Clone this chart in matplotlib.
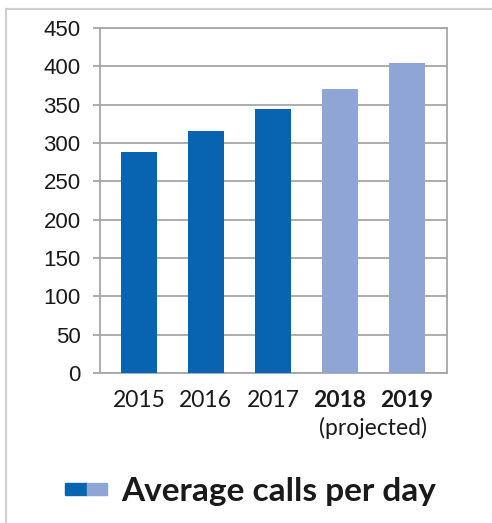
import numpy as np
import matplotlib.pyplot as plt
from matplotlib.lines import Line2D
from matplotlib.patches import Rectangle
import matplotlib.transforms as mtransforms

# data
years = ["2015", "2016", "2017", "2018", "2019"]
calls = [288, 315, 344, 371, 404]
projected = [False, False, False, True, True]

dark_blue = "#0864B1"
light_blue = "#8FA5D5"
grid_gray = "#A6A6A6"
text_c = "#1a1a1a"

fig = plt.figure(figsize=(4.92, 5.23), dpi=100)
W, H = 492, 523
ax = fig.add_axes([100 / W, 1 - 373 / H, 347 / W, 345 / H])

x = np.arange(len(years))
colors = [light_blue if p else dark_blue for p in projected]
ax.bar(x, calls, width=0.54, color=colors, zorder=3)

ax.set_xlim(-0.58, 4.6)
ax.set_ylim(0, 450)
ax.set_yticks(np.arange(0, 451, 50))
ax.grid(True, axis="y", color=grid_gray, linewidth=1.3, zorder=0)

for s in ax.spines.values():
    s.set_color(grid_gray)
    s.set_linewidth(1.3)

ax.tick_params(axis="y", length=5, width=1.3, color=grid_gray, pad=9,
               labelsize=16, labelcolor=text_c)
ax.tick_params(axis="x", length=0, pad=12, labelsize=16.5, labelcolor=text_c)
for lab in ax.get_yticklabels():
    lab.set_fontfamily("Liberation Sans")

ax.set_xticks(x)
ax.set_xticklabels(years, fontfamily="Lato")
for lab, p in zip(ax.get_xticklabels(), projected):
    if p:
        lab.set_fontweight("bold")

# "(projected)" under the two projected years
trans = mtransforms.blended_transform_factory(ax.transData, ax.transAxes)
proj_x = np.mean([xi for xi, p in zip(x, projected) if p])
ax.text(proj_x, -0.16, "(projected)", transform=trans, ha="center", va="center",
        fontsize=16.5, fontfamily="Lato", color=text_c)

# outer frame (top and left edges visible)
frame_c = "#CFCFCF"
fig.add_artist(Line2D([6 / W, 1], [1 - 9 / H, 1 - 9 / H], color=frame_c, linewidth=1.5))
fig.add_artist(Line2D([6 / W, 6 / W], [0, 1 - 9 / H], color=frame_c, linewidth=1.5))

# legend: two-colour swatch plus label
fig.add_artist(Rectangle((65 / W, 1 - 495 / H), 22 / W, 12 / H,
                         transform=fig.transFigure, color=dark_blue))
fig.add_artist(Rectangle((87 / W, 1 - 495 / H), 20 / W, 12 / H,
                         transform=fig.transFigure, color=light_blue))
fig.text(121 / W, 1 - 491 / H, "Average calls per day", ha="left", va="center",
         fontsize=24, fontfamily="Lato", fontweight="bold", color=text_c)

fig.savefig("out.png", dpi=100)
